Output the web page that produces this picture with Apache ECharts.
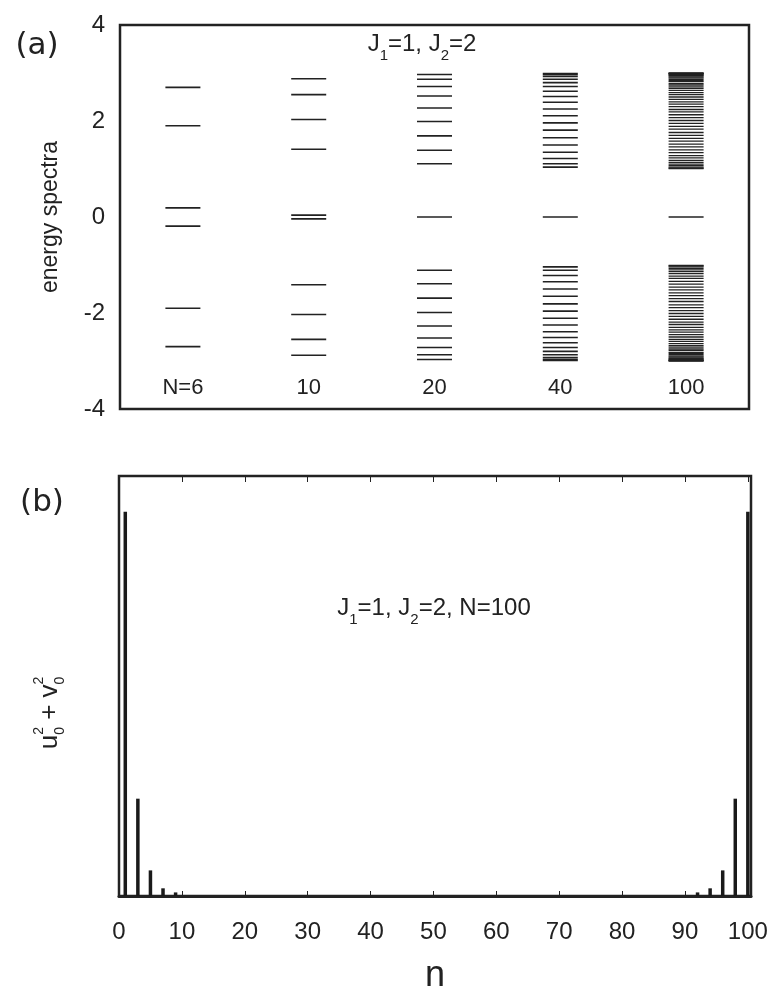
<!DOCTYPE html>
<html><head><meta charset="utf-8">
<script src="https://cdn.jsdelivr.net/npm/echarts@6/dist/echarts.min.js"></script>
<style>html,body{margin:0;padding:0;background:#fff}#c{width:771px;height:995px}</style>
</head><body><div id="c"></div>
<script>
// ---------- data: panel (a) energy spectra ----------
const categoriesA = ['N=6', '10', '20', '40', '100'];
const levelsN6 = [2.70, 1.90, 0.19, -0.19, -1.90, -2.70];
const levelsN10 = [2.88, 2.55, 2.03, 1.41, 0.04, -0.04, -1.41, -2.03, -2.55, -2.88];
const levelsN20Up = [2.97, 2.87, 2.72, 2.52, 2.27, 1.99, 1.69, 1.39, 1.11];
const levelsN20Mid = [0.0];
const levelsN20Down = [-1.11, -1.39, -1.69, -1.99, -2.27, -2.52, -2.72, -2.87, -2.97];
const levelsN40Up = [2.99, 2.97, 2.93, 2.87, 2.80, 2.72, 2.62, 2.51, 2.39, 2.25, 2.11, 1.96, 1.81, 1.65, 1.50, 1.35, 1.22, 1.11, 1.04];
const levelsN40Mid = [0.0];
const levelsN40Down = [-1.04, -1.11, -1.22, -1.35, -1.50, -1.65, -1.81, -1.96, -2.11, -2.25, -2.39, -2.51, -2.62, -2.72, -2.80, -2.87, -2.93, -2.97, -2.99];
const levelsN100Up = [3.00, 2.99, 2.99, 2.98, 2.97, 2.95, 2.94, 2.92, 2.90, 2.87, 2.84, 2.82, 2.78, 2.75, 2.71, 2.68, 2.64, 2.59, 2.55, 2.50, 2.45, 2.40, 2.35, 2.30, 2.24, 2.19, 2.13, 2.07, 2.01, 1.95, 1.89, 1.83, 1.76, 1.70, 1.64, 1.58, 1.52, 1.46, 1.40, 1.34, 1.28, 1.23, 1.18, 1.14, 1.10, 1.07, 1.04, 1.02, 1.01];
const levelsN100Mid = [0.0];
const levelsN100Down = [-1.01, -1.02, -1.04, -1.07, -1.10, -1.14, -1.18, -1.23, -1.28, -1.34, -1.40, -1.46, -1.52, -1.58, -1.64, -1.70, -1.76, -1.83, -1.89, -1.95, -2.01, -2.07, -2.13, -2.19, -2.24, -2.30, -2.35, -2.40, -2.45, -2.50, -2.55, -2.59, -2.64, -2.68, -2.71, -2.75, -2.78, -2.82, -2.84, -2.87, -2.90, -2.92, -2.94, -2.95, -2.97, -2.98, -2.99, -2.99, -3.00];
const yTicksA = [-4, -2, 0, 2, 4];

// ---------- data: panel (b) edge-state weight ----------
const sitesB = [1, 3, 5, 7, 9, 92, 94, 96, 98, 100];
const weightB = [0.75, 0.19, 0.050, 0.015, 0.007, 0.007, 0.015, 0.050, 0.19, 0.75];
const xTicksB = [0, 10, 20, 30, 40, 50, 60, 70, 80, 90, 100];

const FONT = '"Liberation Sans", Arial, Helvetica, sans-serif';
const INK = '#222';

const levelSets = [
  levelsN6,
  levelsN10,
  levelsN20Up.concat(levelsN20Mid, levelsN20Down),
  levelsN40Up.concat(levelsN40Mid, levelsN40Down),
  levelsN100Up.concat(levelsN100Mid, levelsN100Down)
];

const mctx = document.createElement('canvas').getContext('2d');
function textWidth(t, size) { mctx.font = size + 'px ' + FONT; return mctx.measureText(t).width; }
function mathLabel(parts, cx, cy, rotation) {
  let x = 0, prevStart = 0; const items = [];
  parts.forEach(p => {
    const w = textWidth(p.t, p.s);
    const start = p.stack ? prevStart : x;
    items.push({ t: p.t, s: p.s, dy: p.dy || 0, x: start });
    prevStart = start;
    x = Math.max(x, start + w);
  });
  const total = x;
  return {
    type: 'group', x: cx, y: cy, rotation: rotation || 0,
    children: items.map(it => ({
      type: 'text', x: it.x - total / 2, y: it.dy,
      style: { text: it.t, fontSize: it.s, fontFamily: FONT, fill: INK,
        align: 'left', textAlign: 'left', verticalAlign: 'middle', textVerticalAlign: 'middle' }
    }))
  };
}

const seriesA = levelSets.map((arr, i) => ({
  type: 'scatter', xAxisIndex: 0, yAxisIndex: 0,
  symbol: 'rect', symbolSize: [35, i === 4 ? 1.3 : 1.6],
  itemStyle: { color: INK, opacity: 1 },
  silent: true,
  data: arr.map(v => [i, v])
}));

const chart = echarts.init(document.getElementById('c'), null, { renderer: 'canvas' });
chart.setOption({
  animation: false,
  backgroundColor: '#fff',
  grid: [
    { left: 120, top: 25, width: 629, height: 384, show: true, borderColor: INK, borderWidth: 2.5, backgroundColor: 'transparent' },
    { left: 119, top: 476, width: 632, height: 427, show: true, borderColor: INK, borderWidth: 2.5, backgroundColor: 'transparent' }
  ],
  xAxis: [
    { gridIndex: 0, type: 'category', data: categoriesA, boundaryGap: true,
      axisLine: { show: false }, axisTick: { show: false }, splitLine: { show: false },
      axisLabel: { inside: true, margin: 10, fontSize: 22, color: INK, fontFamily: FONT } },
    { gridIndex: 1, type: 'value', min: 0, max: 100.5, interval: 10,
      axisLine: { show: true, lineStyle: { color: INK, width: 3 } },
      axisTick: { inside: true, length: 5, lineStyle: { color: INK, width: 1 } },
      splitLine: { show: false },
      axisLabel: { fontSize: 24, margin: 24, color: INK, fontFamily: FONT, showMaxLabel: false,
        formatter: v => (xTicksB.indexOf(v) >= 0 ? String(v) : '') },
      name: 'n', nameLocation: 'middle', nameGap: 62,
      nameTextStyle: { fontSize: 36, color: INK, fontFamily: FONT } },
    { gridIndex: 1, type: 'value', position: 'top', min: 0, max: 100.5, interval: 10,
      axisLine: { show: false }, axisLabel: { show: false }, splitLine: { show: false },
      axisTick: { inside: true, length: 6, lineStyle: { color: INK, width: 1 } } }
  ],
  yAxis: [
    { gridIndex: 0, type: 'value', min: -4, max: 4, interval: 1,
      axisLine: { show: false }, splitLine: { show: false },
      axisTick: { inside: true, length: 5, lineStyle: { color: INK, width: 1.2 } },
      axisLabel: { fontSize: 24, margin: 15, color: INK, fontFamily: FONT,
        formatter: v => (yTicksA.indexOf(v) >= 0 ? String(v) : '') },
      name: 'energy spectra', nameLocation: 'middle', nameGap: 58,
      nameTextStyle: { fontSize: 23, color: INK, fontFamily: FONT } },
    { gridIndex: 0, type: 'value', position: 'right', min: -4, max: 4, interval: 1,
      axisLine: { show: false }, axisLabel: { show: false }, splitLine: { show: false },
      axisTick: { inside: true, length: 5, lineStyle: { color: INK, width: 1.2 } } },
    { gridIndex: 1, type: 'value', min: 0, max: 0.82,
      axisLine: { show: false }, axisLabel: { show: false }, axisTick: { show: false }, splitLine: { show: false } }
  ],
  series: seriesA.concat([{
    type: 'bar', xAxisIndex: 1, yAxisIndex: 2, barWidth: 3.5,
    itemStyle: { color: '#1a1a1a' }, silent: true,
    data: sitesB.map((n, i) => [n, weightB[i]])
  }]),
  graphic: [
    { type: 'text', x: 37, y: 46, style: { text: '(a)', fontSize: 31, fontFamily: '"DejaVu Sans", sans-serif', fill: INK, align: 'center', textAlign: 'center', verticalAlign: 'middle', textVerticalAlign: 'middle' } },
    { type: 'text', x: 42, y: 503, style: { text: '(b)', fontSize: 31, fontFamily: '"DejaVu Sans", sans-serif', fill: INK, align: 'center', textAlign: 'center', verticalAlign: 'middle', textVerticalAlign: 'middle' } },
    mathLabel([{ t: 'J', s: 24 }, { t: '1', s: 15, dy: 12 }, { t: '=1, J', s: 24 }, { t: '2', s: 15, dy: 12 }, { t: '=2', s: 24 }], 422, 44, 0),
    mathLabel([{ t: 'J', s: 24 }, { t: '1', s: 15, dy: 12 }, { t: '=1, J', s: 24 }, { t: '2', s: 15, dy: 12 }, { t: '=2, N=100', s: 24 }], 434, 608, 0),
    mathLabel([{ t: 'u', s: 26 }, { t: '2', s: 14, dy: -11 }, { t: '0', s: 14, dy: 10, stack: true }, { t: ' + ', s: 26 }, { t: 'v', s: 26 }, { t: '2', s: 14, dy: -11 }, { t: '0', s: 14, dy: 10, stack: true }], 50, 713, Math.PI / 2)
  ]
});
</script>
</body></html>
